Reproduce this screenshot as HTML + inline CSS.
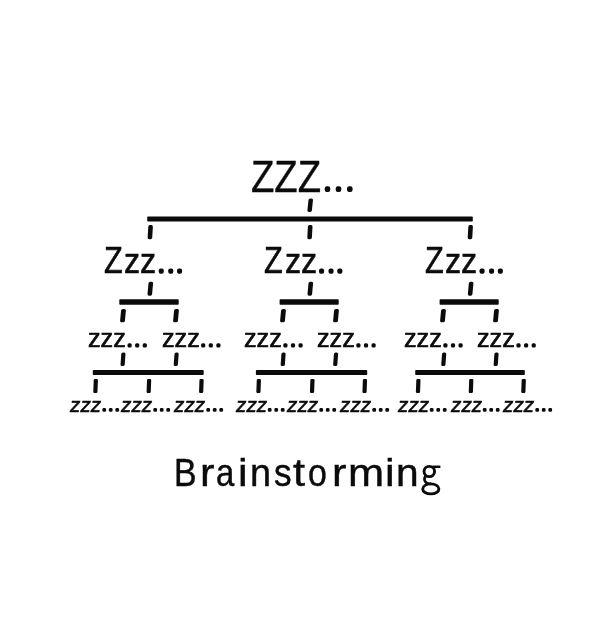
<!DOCTYPE html>
<html><head><meta charset="utf-8"><style>
html,body{margin:0;padding:0;background:#fff;width:600px;height:640px;overflow:hidden}
.t{position:absolute;white-space:nowrap;transform-origin:0 0}
.s{position:absolute;left:0;top:0}
</style></head><body>
<div id="w" style="position:absolute;left:0;top:0;width:600px;height:640px;filter:blur(0.45px)">
<svg class="s" width="600" height="640" viewBox="0 0 600 640" fill="#0b0b0b">
<rect x="324.70" y="186.30" width="5.60" height="5.70" rx="2.2"/>
<rect x="335.70" y="186.30" width="5.60" height="5.70" rx="2.2"/>
<rect x="347.00" y="186.30" width="5.60" height="5.70" rx="2.2"/>
<rect x="307.95" y="198.40" width="4.50" height="13.50" rx="1.6" transform="translate(310.20 205.15) skewX(-5.92) translate(-310.20 -205.15)"/>
<rect x="147.20" y="216.60" width="325.60" height="4.90" rx="0.8"/>
<rect x="147.95" y="225.10" width="4.60" height="14.10" rx="1.6" transform="translate(150.25 232.15) skewX(-3.25) translate(-150.25 -232.15)"/>
<rect x="307.60" y="225.10" width="4.60" height="14.10" rx="1.6" transform="translate(309.90 232.15) skewX(-3.25) translate(-309.90 -232.15)"/>
<rect x="468.00" y="225.10" width="4.60" height="14.10" rx="1.6" transform="translate(470.30 232.15) skewX(-3.25) translate(-470.30 -232.15)"/>
<rect x="158.70" y="268.60" width="5.10" height="5.10" rx="2.0"/>
<rect x="168.20" y="268.60" width="5.10" height="5.10" rx="2.0"/>
<rect x="177.00" y="268.60" width="5.10" height="5.10" rx="2.0"/>
<rect x="319.00" y="268.60" width="5.10" height="5.10" rx="2.0"/>
<rect x="328.50" y="268.60" width="5.10" height="5.10" rx="2.0"/>
<rect x="337.30" y="268.60" width="5.10" height="5.10" rx="2.0"/>
<rect x="479.50" y="268.60" width="5.10" height="5.10" rx="2.0"/>
<rect x="489.00" y="268.60" width="5.10" height="5.10" rx="2.0"/>
<rect x="497.80" y="268.60" width="5.10" height="5.10" rx="2.0"/>
<rect x="148.00" y="281.70" width="4.60" height="14.00" rx="1.6" transform="translate(150.30 288.70) skewX(-5.31) translate(-150.30 -288.70)"/>
<rect x="308.00" y="281.70" width="4.60" height="14.00" rx="1.6" transform="translate(310.30 288.70) skewX(-5.31) translate(-310.30 -288.70)"/>
<rect x="468.35" y="281.70" width="4.60" height="14.00" rx="1.6" transform="translate(470.65 288.70) skewX(-5.31) translate(-470.65 -288.70)"/>
<rect x="119.30" y="299.30" width="59.40" height="5.50" rx="0.8"/>
<rect x="279.60" y="299.30" width="59.10" height="5.50" rx="0.8"/>
<rect x="439.60" y="299.30" width="59.10" height="5.50" rx="0.8"/>
<rect x="120.60" y="309.00" width="4.80" height="13.30" rx="1.6" transform="translate(123.00 315.65) skewX(-5.58) translate(-123.00 -315.65)"/>
<rect x="173.60" y="309.00" width="4.80" height="13.30" rx="1.6" transform="translate(176.00 315.65) skewX(-5.58) translate(-176.00 -315.65)"/>
<rect x="280.60" y="309.00" width="4.80" height="13.30" rx="1.6" transform="translate(283.00 315.65) skewX(-5.58) translate(-283.00 -315.65)"/>
<rect x="333.60" y="309.00" width="4.80" height="13.30" rx="1.6" transform="translate(336.00 315.65) skewX(-5.58) translate(-336.00 -315.65)"/>
<rect x="440.60" y="309.00" width="4.80" height="13.30" rx="1.6" transform="translate(443.00 315.65) skewX(-5.58) translate(-443.00 -315.65)"/>
<rect x="493.60" y="309.00" width="4.80" height="13.30" rx="1.6" transform="translate(496.00 315.65) skewX(-5.58) translate(-496.00 -315.65)"/>
<rect x="127.50" y="343.30" width="4.20" height="4.20" rx="1.5"/>
<rect x="135.10" y="343.30" width="4.20" height="4.20" rx="1.5"/>
<rect x="142.70" y="343.30" width="4.20" height="4.20" rx="1.5"/>
<rect x="201.10" y="343.30" width="4.20" height="4.20" rx="1.5"/>
<rect x="208.70" y="343.30" width="4.20" height="4.20" rx="1.5"/>
<rect x="216.30" y="343.30" width="4.20" height="4.20" rx="1.5"/>
<rect x="283.30" y="343.30" width="4.20" height="4.20" rx="1.5"/>
<rect x="290.90" y="343.30" width="4.20" height="4.20" rx="1.5"/>
<rect x="298.50" y="343.30" width="4.20" height="4.20" rx="1.5"/>
<rect x="356.30" y="343.30" width="4.20" height="4.20" rx="1.5"/>
<rect x="363.90" y="343.30" width="4.20" height="4.20" rx="1.5"/>
<rect x="371.50" y="343.30" width="4.20" height="4.20" rx="1.5"/>
<rect x="443.30" y="343.30" width="4.20" height="4.20" rx="1.5"/>
<rect x="450.90" y="343.30" width="4.20" height="4.20" rx="1.5"/>
<rect x="458.50" y="343.30" width="4.20" height="4.20" rx="1.5"/>
<rect x="516.40" y="343.30" width="4.20" height="4.20" rx="1.5"/>
<rect x="524.00" y="343.30" width="4.20" height="4.20" rx="1.5"/>
<rect x="531.60" y="343.30" width="4.20" height="4.20" rx="1.5"/>
<rect x="120.90" y="352.50" width="4.20" height="13.50" rx="1.6" transform="translate(123.00 359.25) skewX(-4.24) translate(-123.00 -359.25)"/>
<rect x="174.10" y="352.50" width="4.20" height="13.50" rx="1.6" transform="translate(176.20 359.25) skewX(-4.24) translate(-176.20 -359.25)"/>
<rect x="281.05" y="352.50" width="4.20" height="13.50" rx="1.6" transform="translate(283.15 359.25) skewX(-4.24) translate(-283.15 -359.25)"/>
<rect x="333.55" y="352.50" width="4.20" height="13.50" rx="1.6" transform="translate(335.65 359.25) skewX(-4.24) translate(-335.65 -359.25)"/>
<rect x="441.65" y="352.50" width="4.20" height="13.50" rx="1.6" transform="translate(443.75 359.25) skewX(-4.24) translate(-443.75 -359.25)"/>
<rect x="494.00" y="352.50" width="4.20" height="13.50" rx="1.6" transform="translate(496.10 359.25) skewX(-4.24) translate(-496.10 -359.25)"/>
<rect x="92.80" y="370.00" width="110.90" height="5.10" rx="0.8"/>
<rect x="255.90" y="370.00" width="111.30" height="5.10" rx="0.8"/>
<rect x="415.20" y="370.00" width="109.60" height="5.10" rx="0.8"/>
<rect x="93.50" y="379.10" width="4.20" height="13.90" rx="1.2" transform="translate(95.60 386.05) skewX(-2.06) translate(-95.60 -386.05)"/>
<rect x="146.80" y="379.10" width="4.20" height="13.90" rx="1.2" transform="translate(148.90 386.05) skewX(-2.06) translate(-148.90 -386.05)"/>
<rect x="199.25" y="379.10" width="4.20" height="13.90" rx="1.2" transform="translate(201.35 386.05) skewX(-2.06) translate(-201.35 -386.05)"/>
<rect x="256.55" y="379.10" width="4.20" height="13.90" rx="1.2" transform="translate(258.65 386.05) skewX(-2.06) translate(-258.65 -386.05)"/>
<rect x="310.15" y="379.10" width="4.20" height="13.90" rx="1.2" transform="translate(312.25 386.05) skewX(-2.06) translate(-312.25 -386.05)"/>
<rect x="362.65" y="379.10" width="4.20" height="13.90" rx="1.2" transform="translate(364.75 386.05) skewX(-2.06) translate(-364.75 -386.05)"/>
<rect x="416.10" y="379.10" width="4.20" height="13.90" rx="1.2" transform="translate(418.20 386.05) skewX(-2.06) translate(-418.20 -386.05)"/>
<rect x="468.95" y="379.10" width="4.20" height="13.90" rx="1.2" transform="translate(471.05 386.05) skewX(-2.06) translate(-471.05 -386.05)"/>
<rect x="521.45" y="379.10" width="4.20" height="13.90" rx="1.2" transform="translate(523.55 386.05) skewX(-2.06) translate(-523.55 -386.05)"/>
<rect x="102.40" y="408.10" width="3.70" height="3.70" rx="1.3"/>
<rect x="108.90" y="408.10" width="3.70" height="3.70" rx="1.3"/>
<rect x="115.40" y="408.10" width="3.70" height="3.70" rx="1.3"/>
<rect x="153.35" y="408.10" width="3.70" height="3.70" rx="1.3"/>
<rect x="159.85" y="408.10" width="3.70" height="3.70" rx="1.3"/>
<rect x="166.35" y="408.10" width="3.70" height="3.70" rx="1.3"/>
<rect x="206.35" y="408.10" width="3.70" height="3.70" rx="1.3"/>
<rect x="212.85" y="408.10" width="3.70" height="3.70" rx="1.3"/>
<rect x="219.35" y="408.10" width="3.70" height="3.70" rx="1.3"/>
<rect x="267.85" y="408.10" width="3.70" height="3.70" rx="1.3"/>
<rect x="274.35" y="408.10" width="3.70" height="3.70" rx="1.3"/>
<rect x="280.85" y="408.10" width="3.70" height="3.70" rx="1.3"/>
<rect x="319.35" y="408.10" width="3.70" height="3.70" rx="1.3"/>
<rect x="325.85" y="408.10" width="3.70" height="3.70" rx="1.3"/>
<rect x="332.35" y="408.10" width="3.70" height="3.70" rx="1.3"/>
<rect x="372.35" y="408.10" width="3.70" height="3.70" rx="1.3"/>
<rect x="378.85" y="408.10" width="3.70" height="3.70" rx="1.3"/>
<rect x="385.35" y="408.10" width="3.70" height="3.70" rx="1.3"/>
<rect x="429.85" y="408.10" width="3.70" height="3.70" rx="1.3"/>
<rect x="436.35" y="408.10" width="3.70" height="3.70" rx="1.3"/>
<rect x="442.85" y="408.10" width="3.70" height="3.70" rx="1.3"/>
<rect x="482.85" y="408.10" width="3.70" height="3.70" rx="1.3"/>
<rect x="489.35" y="408.10" width="3.70" height="3.70" rx="1.3"/>
<rect x="495.85" y="408.10" width="3.70" height="3.70" rx="1.3"/>
<rect x="535.35" y="408.10" width="3.70" height="3.70" rx="1.3"/>
<rect x="541.85" y="408.10" width="3.70" height="3.70" rx="1.3"/>
<rect x="548.35" y="408.10" width="3.70" height="3.70" rx="1.3"/>
<g fill="none" stroke="#0b0b0b"><ellipse cx="429.3" cy="471.5" rx="5.25" ry="5.15" stroke-width="2.9"/><path d="M432.5 466.8 L440.4 466.8" stroke-width="2.5"/><path d="M425.6 475.8 Q423.4 479.3 425.3 481.8 Q426.8 483.9 431 483.9" stroke-width="2.6"/><ellipse cx="430.8" cy="488.9" rx="8.1" ry="5.0" stroke-width="2.9"/></g>
</svg>
<div class="t" style="left:251.06px;top:155.06px;font:400 44.07px/1 'Liberation Sans', sans-serif;transform:scaleX(0.8679);color:#0b0b0b;-webkit-text-stroke:0.4px #0b0b0b">ZZZ</div>
<div class="t" style="left:103.90px;top:242.52px;font:400 36.07px/1 'Liberation Sans', sans-serif;transform:scaleX(0.8506);color:#0b0b0b;-webkit-text-stroke:0.6px #0b0b0b">Z</div>
<div class="t" style="left:124.31px;top:243.53px;font:400 34.88px/1 'Liberation Sans', sans-serif;transform:scaleX(0.9231);color:#0b0b0b;-webkit-text-stroke:0.6px #0b0b0b">zz</div>
<div class="t" style="left:264.20px;top:242.52px;font:400 36.07px/1 'Liberation Sans', sans-serif;transform:scaleX(0.8506);color:#0b0b0b;-webkit-text-stroke:0.6px #0b0b0b">Z</div>
<div class="t" style="left:284.61px;top:243.53px;font:400 34.88px/1 'Liberation Sans', sans-serif;transform:scaleX(0.9231);color:#0b0b0b;-webkit-text-stroke:0.6px #0b0b0b">zz</div>
<div class="t" style="left:424.70px;top:242.52px;font:400 36.07px/1 'Liberation Sans', sans-serif;transform:scaleX(0.8506);color:#0b0b0b;-webkit-text-stroke:0.6px #0b0b0b">Z</div>
<div class="t" style="left:445.11px;top:243.53px;font:400 34.88px/1 'Liberation Sans', sans-serif;transform:scaleX(0.9231);color:#0b0b0b;-webkit-text-stroke:0.6px #0b0b0b">zz</div>
<div class="t" style="left:88.04px;top:325.70px;font:400 25.97px/1 'Liberation Sans', sans-serif;transform:scaleX(0.9694);color:#0b0b0b;-webkit-text-stroke:0.7px #0b0b0b">zzz</div>
<div class="t" style="left:161.64px;top:325.70px;font:400 25.97px/1 'Liberation Sans', sans-serif;transform:scaleX(0.9694);color:#0b0b0b;-webkit-text-stroke:0.7px #0b0b0b">zzz</div>
<div class="t" style="left:243.84px;top:325.70px;font:400 25.97px/1 'Liberation Sans', sans-serif;transform:scaleX(0.9694);color:#0b0b0b;-webkit-text-stroke:0.7px #0b0b0b">zzz</div>
<div class="t" style="left:316.84px;top:325.70px;font:400 25.97px/1 'Liberation Sans', sans-serif;transform:scaleX(0.9694);color:#0b0b0b;-webkit-text-stroke:0.7px #0b0b0b">zzz</div>
<div class="t" style="left:403.84px;top:325.70px;font:400 25.97px/1 'Liberation Sans', sans-serif;transform:scaleX(0.9694);color:#0b0b0b;-webkit-text-stroke:0.7px #0b0b0b">zzz</div>
<div class="t" style="left:476.94px;top:325.70px;font:400 25.97px/1 'Liberation Sans', sans-serif;transform:scaleX(0.9694);color:#0b0b0b;-webkit-text-stroke:0.7px #0b0b0b">zzz</div>
<div class="t" style="left:70.43px;top:393.96px;font:italic 400 21.14px/1 'Liberation Sans', sans-serif;transform:scaleX(0.9827);color:#0b0b0b;-webkit-text-stroke:0.55px #0b0b0b">zzz</div>
<div class="t" style="left:121.38px;top:393.96px;font:italic 400 21.14px/1 'Liberation Sans', sans-serif;transform:scaleX(0.9827);color:#0b0b0b;-webkit-text-stroke:0.55px #0b0b0b">zzz</div>
<div class="t" style="left:174.38px;top:393.96px;font:italic 400 21.14px/1 'Liberation Sans', sans-serif;transform:scaleX(0.9827);color:#0b0b0b;-webkit-text-stroke:0.55px #0b0b0b">zzz</div>
<div class="t" style="left:235.88px;top:393.96px;font:italic 400 21.14px/1 'Liberation Sans', sans-serif;transform:scaleX(0.9827);color:#0b0b0b;-webkit-text-stroke:0.55px #0b0b0b">zzz</div>
<div class="t" style="left:287.38px;top:393.96px;font:italic 400 21.14px/1 'Liberation Sans', sans-serif;transform:scaleX(0.9827);color:#0b0b0b;-webkit-text-stroke:0.55px #0b0b0b">zzz</div>
<div class="t" style="left:340.38px;top:393.96px;font:italic 400 21.14px/1 'Liberation Sans', sans-serif;transform:scaleX(0.9827);color:#0b0b0b;-webkit-text-stroke:0.55px #0b0b0b">zzz</div>
<div class="t" style="left:397.88px;top:393.96px;font:italic 400 21.14px/1 'Liberation Sans', sans-serif;transform:scaleX(0.9827);color:#0b0b0b;-webkit-text-stroke:0.55px #0b0b0b">zzz</div>
<div class="t" style="left:450.88px;top:393.96px;font:italic 400 21.14px/1 'Liberation Sans', sans-serif;transform:scaleX(0.9827);color:#0b0b0b;-webkit-text-stroke:0.55px #0b0b0b">zzz</div>
<div class="t" style="left:503.38px;top:393.96px;font:italic 400 21.14px/1 'Liberation Sans', sans-serif;transform:scaleX(0.9827);color:#0b0b0b;-webkit-text-stroke:0.55px #0b0b0b">zzz</div>
<div class="t" style="left:173.91px;top:454.10px;font:400 38.7px/1 'Liberation Sans', sans-serif;transform:scaleX(0.8735);color:#0b0b0b;-webkit-text-stroke:0.45px #0b0b0b">B</div>
<div class="t" style="left:199.66px;top:454.10px;font:400 38.7px/1 'Liberation Sans', sans-serif;transform:scaleX(1.1200);color:#0b0b0b;-webkit-text-stroke:0.45px #0b0b0b">r</div>
<div class="t" style="left:216.17px;top:454.10px;font:400 38.7px/1 'Liberation Sans', sans-serif;transform:scaleX(0.8500);color:#0b0b0b;-webkit-text-stroke:0.45px #0b0b0b">a</div>
<div class="t" style="left:238.48px;top:454.10px;font:400 38.7px/1 'Liberation Sans', sans-serif;transform:scaleX(1.1200);color:#0b0b0b;-webkit-text-stroke:0.45px #0b0b0b">i</div>
<div class="t" style="left:249.94px;top:454.10px;font:400 38.7px/1 'Liberation Sans', sans-serif;transform:scaleX(0.9785);color:#0b0b0b;-webkit-text-stroke:0.45px #0b0b0b">n</div>
<div class="t" style="left:274.33px;top:454.10px;font:400 38.7px/1 'Liberation Sans', sans-serif;transform:scaleX(0.9096);color:#0b0b0b;-webkit-text-stroke:0.45px #0b0b0b">s</div>
<div class="t" style="left:293.07px;top:454.10px;font:400 38.7px/1 'Liberation Sans', sans-serif;transform:scaleX(1.1200);color:#0b0b0b;-webkit-text-stroke:0.45px #0b0b0b">t</div>
<div class="t" style="left:308.06px;top:454.10px;font:400 38.7px/1 'Liberation Sans', sans-serif;transform:scaleX(0.8750);color:#0b0b0b;-webkit-text-stroke:0.45px #0b0b0b">o</div>
<div class="t" style="left:331.91px;top:454.10px;font:400 38.7px/1 'Liberation Sans', sans-serif;transform:scaleX(1.1200);color:#0b0b0b;-webkit-text-stroke:0.45px #0b0b0b">r</div>
<div class="t" style="left:348.25px;top:454.10px;font:400 38.7px/1 'Liberation Sans', sans-serif;transform:scaleX(1.1200);color:#0b0b0b;-webkit-text-stroke:0.45px #0b0b0b">m</div>
<div class="t" style="left:384.88px;top:454.10px;font:400 38.7px/1 'Liberation Sans', sans-serif;transform:scaleX(1.1200);color:#0b0b0b;-webkit-text-stroke:0.45px #0b0b0b">i</div>
<div class="t" style="left:396.25px;top:454.10px;font:400 38.7px/1 'Liberation Sans', sans-serif;transform:scaleX(1.0519);color:#0b0b0b;-webkit-text-stroke:0.45px #0b0b0b">n</div>
</div>
</body></html>
